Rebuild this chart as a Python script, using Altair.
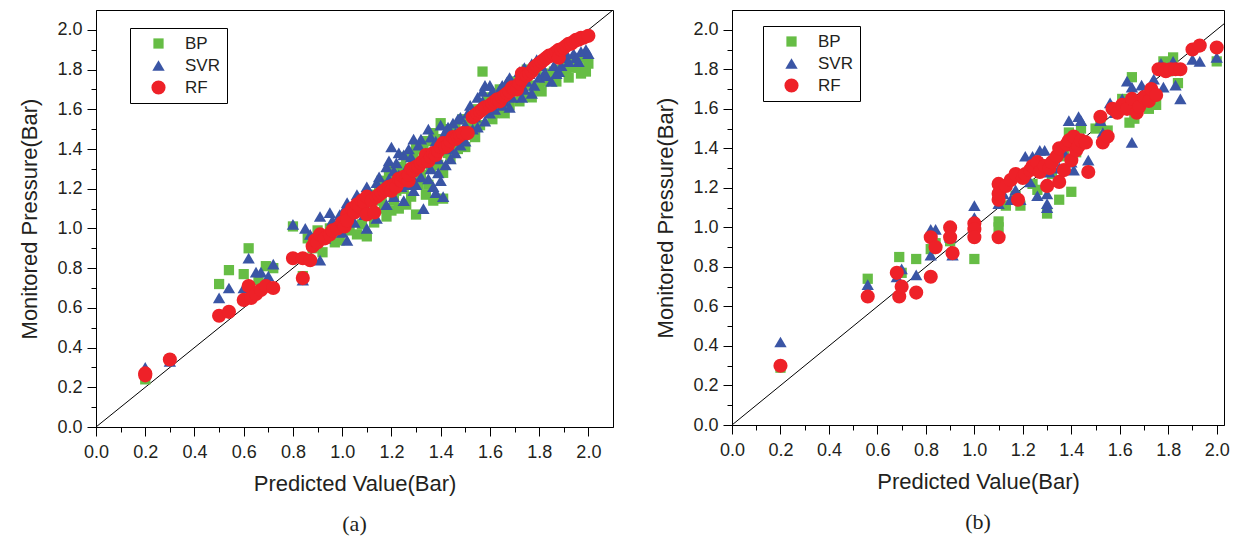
import altair as alt
import pandas as pd

series_names = ["BP", "SVR", "RF"]
series_colors = ["#66BD45", "#3A55A5", "#EE2128"]
series_shapes = ["square", "triangle-up", "circle"]
series_sizes = [105, 200, 125]

major_ticks = [0.0, 0.2, 0.4, 0.6, 0.8, 1.0, 1.2, 1.4, 1.6, 1.8, 2.0]
minor_ticks = [0.1, 0.3, 0.5, 0.7, 0.9, 1.1, 1.3, 1.5, 1.7, 1.9]
diag_values = [0.0, 2.1]

# ---- panel (a): (predicted, monitored) ----
a_bp = [(0.20,0.24),(0.30,0.34),(0.50,0.72),(0.54,0.79),(0.60,0.77),(0.62,0.90),(0.66,0.74),(0.69,0.81),
        (0.72,0.80),(0.80,1.01),(0.84,0.76),(0.86,0.95),(0.88,0.90),(0.90,0.99),(0.92,0.88),(0.95,1.00),
        (0.97,0.93),(0.99,0.94),(1.01,1.05),(1.03,0.99),(1.04,1.08),(1.06,0.97),(1.07,1.12),(1.08,1.02),
        (1.10,0.96),(1.11,1.17),(1.12,1.08),(1.13,1.03),(1.15,1.20),(1.16,1.14),(1.16,1.24),(1.17,1.10),
        (1.18,1.06),(1.19,1.27),(1.20,1.09),(1.20,1.30),(1.21,1.14),(1.22,1.19),(1.23,1.10),(1.24,1.31),
        (1.25,1.20),(1.26,1.12),(1.26,1.36),(1.27,1.25),(1.28,1.16),(1.29,1.35),(1.30,1.07),(1.30,1.40),
        (1.31,1.22),(1.32,1.27),(1.33,1.40),(1.34,1.17),(1.34,1.44),(1.35,1.22),(1.36,1.30),(1.37,1.14),
        (1.37,1.48),(1.38,1.45),(1.39,1.32),(1.40,1.53),(1.41,1.28),(1.41,1.15),(1.42,1.42),(1.43,1.38),
        (1.43,1.50),(1.44,1.35),(1.45,1.47),(1.46,1.50),(1.47,1.40),(1.48,1.43),(1.49,1.55),(1.50,1.41),
        (1.51,1.47),(1.52,1.52),(1.53,1.55),(1.54,1.46),(1.55,1.60),(1.56,1.52),(1.57,1.79),(1.58,1.62),
        (1.59,1.66),(1.60,1.60),(1.61,1.55),(1.62,1.58),(1.63,1.68),(1.64,1.70),(1.65,1.64),(1.66,1.58),
        (1.67,1.66),(1.68,1.62),(1.69,1.72),(1.70,1.74),(1.71,1.70),(1.72,1.64),(1.73,1.67),(1.74,1.76),
        (1.75,1.80),(1.76,1.72),(1.77,1.66),(1.78,1.70),(1.79,1.80),(1.80,1.71),(1.81,1.69),(1.82,1.74),
        (1.84,1.78),(1.85,1.76),(1.86,1.79),(1.87,1.74),(1.88,1.80),(1.90,1.84),(1.91,1.79),(1.92,1.76),
        (1.93,1.85),(1.94,1.81),(1.96,1.81),(1.97,1.78),(1.98,1.86),(1.99,1.79),(2.00,1.83)]

a_svr = [(0.20,0.30),(0.30,0.33),(0.50,0.65),(0.54,0.70),(0.60,0.70),(0.62,0.85),(0.62,0.72),(0.65,0.78),
         (0.67,0.78),(0.70,0.76),(0.72,0.82),(0.80,1.02),(0.84,0.74),(0.85,1.00),(0.87,0.97),(0.88,0.92),
         (0.91,1.06),(0.91,0.84),(0.93,0.95),(0.95,1.08),(0.96,1.04),(0.97,1.02),(0.99,1.07),(1.00,0.98),
         (1.01,1.10),(1.02,1.13),(1.02,0.94),(1.04,1.08),(1.05,1.03),(1.06,1.17),(1.07,1.15),(1.08,1.12),
         (1.09,1.07),(1.10,1.21),(1.10,1.00),(1.11,1.18),(1.12,1.15),(1.13,1.10),(1.14,1.23),(1.14,1.05),
         (1.15,1.26),(1.16,1.19),(1.17,1.22),(1.18,1.31),(1.18,1.12),(1.19,1.25),(1.19,1.34),(1.20,1.41),
         (1.21,1.16),(1.21,1.29),(1.22,1.33),(1.23,1.27),(1.23,1.38),(1.24,1.21),(1.25,1.37),(1.25,1.14),
         (1.26,1.30),(1.27,1.22),(1.27,1.40),(1.28,1.36),(1.28,1.27),(1.29,1.19),(1.29,1.45),(1.30,1.32),
         (1.30,1.22),(1.31,1.42),(1.32,1.26),(1.32,1.45),(1.33,1.10),(1.33,1.33),(1.34,1.38),(1.35,1.50),
         (1.35,1.25),(1.36,1.30),(1.36,1.46),(1.37,1.21),(1.37,1.40),(1.38,1.44),(1.38,1.18),(1.39,1.35),
         (1.39,1.28),(1.40,1.52),(1.40,1.24),(1.41,1.16),(1.41,1.46),(1.42,1.32),(1.42,1.49),(1.43,1.51),
         (1.44,1.40),(1.44,1.35),(1.45,1.53),(1.46,1.48),(1.46,1.38),(1.47,1.55),(1.48,1.56),(1.48,1.42),
         (1.50,1.44),(1.50,1.52),(1.51,1.58),(1.52,1.62),(1.53,1.50),(1.54,1.56),(1.55,1.51),(1.55,1.66),
         (1.56,1.60),(1.57,1.64),(1.57,1.69),(1.58,1.72),(1.58,1.54),(1.60,1.72),(1.60,1.58),(1.61,1.69),
         (1.62,1.66),(1.62,1.60),(1.63,1.67),(1.64,1.70),(1.65,1.62),(1.65,1.72),(1.66,1.64),(1.67,1.74),
         (1.68,1.61),(1.68,1.76),(1.69,1.66),(1.70,1.70),(1.71,1.74),(1.72,1.79),(1.73,1.66),(1.74,1.70),
         (1.74,1.81),(1.75,1.74),(1.76,1.78),(1.77,1.68),(1.77,1.83),(1.78,1.72),(1.79,1.85),(1.80,1.76),
         (1.81,1.82),(1.82,1.78),(1.83,1.77),(1.85,1.74),(1.86,1.82),(1.87,1.78),(1.88,1.79),(1.89,1.82),
         (1.90,1.86),(1.91,1.88),(1.92,1.84),(1.94,1.88),(1.95,1.86),(1.96,1.84),(1.97,1.89),(1.99,1.90),
         (2.00,1.88)]

a_rf = [(0.20,0.27),(0.20,0.26),(0.30,0.34),(0.50,0.56),(0.54,0.58),(0.60,0.64),(0.62,0.71),(0.63,0.65),
        (0.65,0.67),(0.67,0.69),(0.69,0.71),(0.72,0.70),(0.80,0.85),(0.84,0.85),(0.84,0.75),(0.87,0.84),
        (0.88,0.91),(0.89,0.94),(0.90,0.93),(0.91,0.97),(0.93,0.95),(0.95,0.97),(0.96,0.99),(0.98,1.00),
        (1.00,1.03),(1.01,1.01),(1.02,1.07),(1.02,1.04),(1.04,1.10),(1.05,1.08),(1.06,1.12),(1.07,1.11),
        (1.08,1.14),(1.09,1.13),(1.10,1.16),(1.10,1.07),(1.12,1.14),(1.13,1.08),(1.14,1.16),(1.15,1.17),
        (1.16,1.18),(1.17,1.19),(1.18,1.20),(1.19,1.21),(1.20,1.19),(1.21,1.22),(1.22,1.21),(1.23,1.25),
        (1.24,1.24),(1.25,1.26),(1.26,1.25),(1.27,1.24),(1.27,1.27),(1.28,1.30),(1.29,1.29),(1.30,1.31),
        (1.31,1.31),(1.32,1.33),(1.33,1.34),(1.34,1.37),(1.35,1.34),(1.36,1.36),(1.37,1.38),(1.38,1.37),
        (1.39,1.39),(1.40,1.41),(1.41,1.43),(1.42,1.41),(1.43,1.42),(1.44,1.44),(1.45,1.46),(1.46,1.45),
        (1.47,1.46),(1.48,1.47),(1.49,1.48),(1.51,1.48),(1.53,1.56),(1.54,1.57),(1.55,1.58),(1.56,1.59),
        (1.57,1.60),(1.58,1.61),(1.60,1.62),(1.61,1.63),(1.62,1.64),(1.63,1.65),(1.64,1.64),(1.65,1.66),
        (1.66,1.67),(1.67,1.68),(1.68,1.69),(1.69,1.71),(1.70,1.70),(1.71,1.70),(1.72,1.73),(1.73,1.75),
        (1.73,1.78),(1.75,1.77),(1.76,1.78),(1.77,1.79),(1.78,1.81),(1.79,1.82),(1.80,1.83),(1.81,1.84),
        (1.82,1.85),(1.83,1.86),(1.84,1.87),(1.85,1.87),(1.86,1.88),(1.87,1.89),(1.88,1.90),(1.88,1.86),
        (1.89,1.90),(1.90,1.91),(1.91,1.92),(1.92,1.93),(1.93,1.93),(1.94,1.94),(1.95,1.95),(1.96,1.95),
        (1.97,1.96),(1.98,1.96),(2.00,1.97)]

# ---- panel (b) ----
b_bp = [(0.20,0.29),(0.56,0.74),(0.69,0.85),(0.70,0.77),(0.76,0.84),(0.82,0.89),(0.84,0.92),(0.90,0.93),
        (1.00,0.84),(1.10,1.03),(1.10,1.00),(1.13,1.11),(1.17,1.16),(1.19,1.11),(1.21,1.25),(1.24,1.22),
        (1.26,1.19),(1.28,1.30),(1.30,1.07),(1.32,1.27),(1.35,1.14),(1.37,1.36),(1.39,1.48),(1.40,1.18),
        (1.42,1.38),(1.44,1.50),(1.50,1.50),(1.52,1.52),(1.55,1.49),(1.58,1.60),(1.61,1.65),(1.64,1.53),
        (1.65,1.76),(1.66,1.55),(1.68,1.62),(1.72,1.60),(1.75,1.62),(1.78,1.84),(1.80,1.79),(1.82,1.86),
        (1.84,1.73),(1.93,1.92),(2.00,1.84)]

b_svr = [(0.20,0.42),(0.56,0.71),(0.68,0.75),(0.70,0.79),(0.76,0.76),(0.82,0.86),(0.82,0.99),(0.84,0.99),
         (0.90,0.95),(0.91,0.86),(1.00,1.11),(1.00,1.05),(1.00,0.99),(1.10,1.12),(1.10,1.21),(1.12,1.17),
         (1.15,1.14),(1.17,1.19),(1.19,1.14),(1.21,1.36),(1.22,1.30),(1.23,1.23),(1.24,1.36),(1.26,1.16),
         (1.27,1.39),(1.28,1.33),(1.29,1.39),(1.30,1.17),(1.30,1.12),(1.30,1.10),(1.31,1.28),(1.33,1.35),
         (1.35,1.30),(1.37,1.38),(1.39,1.54),(1.40,1.33),(1.41,1.29),(1.42,1.40),(1.43,1.56),(1.44,1.54),
         (1.45,1.45),(1.47,1.34),(1.52,1.54),(1.53,1.48),(1.56,1.63),(1.58,1.58),(1.61,1.65),(1.63,1.74),
         (1.65,1.71),(1.65,1.43),(1.67,1.62),(1.69,1.72),(1.72,1.68),(1.74,1.75),(1.77,1.83),(1.78,1.71),
         (1.80,1.81),(1.82,1.84),(1.83,1.72),(1.85,1.65),(1.90,1.85),(1.93,1.84),(2.00,1.86)]

b_rf = [(0.20,0.30),(0.56,0.65),(0.68,0.77),(0.69,0.65),(0.70,0.70),(0.76,0.67),(0.82,0.95),(0.84,0.90),
        (0.82,0.75),(0.90,1.00),(0.90,0.95),(0.91,0.87),(1.00,1.02),(1.00,0.99),(1.00,0.95),(1.10,0.95),
        (1.10,1.22),(1.10,1.14),(1.10,1.17),(1.13,1.21),(1.15,1.24),(1.17,1.27),(1.18,1.14),(1.20,1.25),
        (1.21,1.27),(1.23,1.29),(1.24,1.31),(1.26,1.33),(1.27,1.28),(1.29,1.31),(1.30,1.21),(1.31,1.30),
        (1.32,1.33),(1.34,1.36),(1.35,1.40),(1.35,1.23),(1.37,1.29),(1.38,1.42),(1.39,1.44),(1.40,1.34),
        (1.41,1.46),(1.42,1.39),(1.43,1.41),(1.44,1.44),(1.46,1.43),(1.47,1.28),(1.52,1.56),(1.53,1.43),
        (1.55,1.46),(1.57,1.60),(1.59,1.58),(1.61,1.62),(1.63,1.60),(1.65,1.65),(1.67,1.58),(1.68,1.61),
        (1.70,1.66),(1.72,1.64),(1.73,1.70),(1.75,1.67),(1.76,1.80),(1.78,1.80),(1.79,1.79),(1.81,1.80),
        (1.83,1.80),(1.85,1.80),(1.90,1.90),(1.93,1.92),(2.00,1.91)]

AXIS_FONT = "Liberation Sans"
TEXT_COLOR = "#231F20"


def make_panel(bp, svr, rf, label, width, height, xmax, legend_x, legend_y):
    rows = []
    for name, pts in zip(series_names, [bp, svr, rf]):
        for px, py in pts:
            rows.append({"series": name, "pred": px, "mon": py})
    df = pd.DataFrame(rows)
    diag = pd.DataFrame({"pred": diag_values, "mon": diag_values})

    xs = alt.Scale(domain=[0, xmax], nice=False, zero=False)
    ys = alt.Scale(domain=[0, 2.1], nice=False, zero=False)

    minor_x = alt.Axis(values=minor_ticks, labels=False, tickSize=5, domain=False,
                       grid=False, orient="bottom", tickColor="black")
    minor_y = alt.Axis(values=minor_ticks, labels=False, tickSize=5, domain=False,
                       grid=False, orient="left", tickColor="black")

    line = alt.Chart(diag).mark_line(color="black", strokeWidth=1, clip=True).encode(
        x=alt.X("pred:Q", scale=xs, axis=minor_x, title=None),
        y=alt.Y("mon:Q", scale=ys, axis=minor_y, title=None),
    )

    major_x = alt.Axis(values=major_ticks, format=".1f", tickSize=9, labelPadding=7,
                       titlePadding=12, grid=False, orient="bottom", domainColor="black",
                       tickColor="black", labelFlush=False)
    major_y = alt.Axis(values=major_ticks, format=".1f", tickSize=9, labelPadding=5,
                       titlePadding=15, grid=False, orient="left", domainColor="black",
                       tickColor="black", labelFlush=False)

    legend = alt.Legend(orient="none", legendX=legend_x, legendY=legend_y, title=None,
                        strokeColor="black", fillColor="white", padding=7,
                        symbolOffset=13, labelOffset=18, rowPadding=4,
                        labelFontSize=17, labelFont=AXIS_FONT, labelColor=TEXT_COLOR,
                        symbolStrokeWidth=0)

    points = alt.Chart(df).mark_point(filled=True, opacity=1, strokeWidth=0).encode(
        x=alt.X("pred:Q", scale=xs, axis=major_x, title="Predicted Value(Bar)"),
        y=alt.Y("mon:Q", scale=ys, axis=major_y, title="Monitored Pressure(Bar)"),
        color=alt.Color("series:N", scale=alt.Scale(domain=series_names, range=series_colors),
                        legend=legend, title=None),
        shape=alt.Shape("series:N", scale=alt.Scale(domain=series_names, range=series_shapes),
                        legend=legend, title=None),
        size=alt.Size("series:N", scale=alt.Scale(domain=series_names, range=series_sizes),
                      legend=legend, title=None),
    )

    return alt.layer(line, points).resolve_axis(x="independent", y="independent").properties(
        width=width, height=height,
        title=alt.TitleParams(label, orient="bottom", font="Liberation Serif", fontSize=22,
                              fontWeight="normal", color=TEXT_COLOR, offset=20,
                              anchor="middle", frame="group"),
    )


panel_a = make_panel(a_bp, a_svr, a_rf, "(a)", 517, 417, 2.1, 34, 18)
panel_b = make_panel(b_bp, b_svr, b_rf, "(b)", 492, 415, 2.03, 31, 16)

chart = alt.hconcat(panel_a, panel_b, spacing=40).resolve_scale(
    color="independent", shape="independent", size="independent"
).resolve_legend(color="independent", shape="independent", size="independent").properties(
    padding={"left": 10, "top": 1, "right": 0, "bottom": 0}
).configure_view(stroke="black", strokeWidth=1).configure_axis(
    labelFont=AXIS_FONT, labelFontSize=18, labelColor=TEXT_COLOR,
    titleFont=AXIS_FONT, titleFontSize=22, titleFontWeight="normal", titleColor=TEXT_COLOR,
    domainColor="black", domainWidth=1,
)

chart.save("out.html", embed_options={"renderer": "svg", "actions": False})
